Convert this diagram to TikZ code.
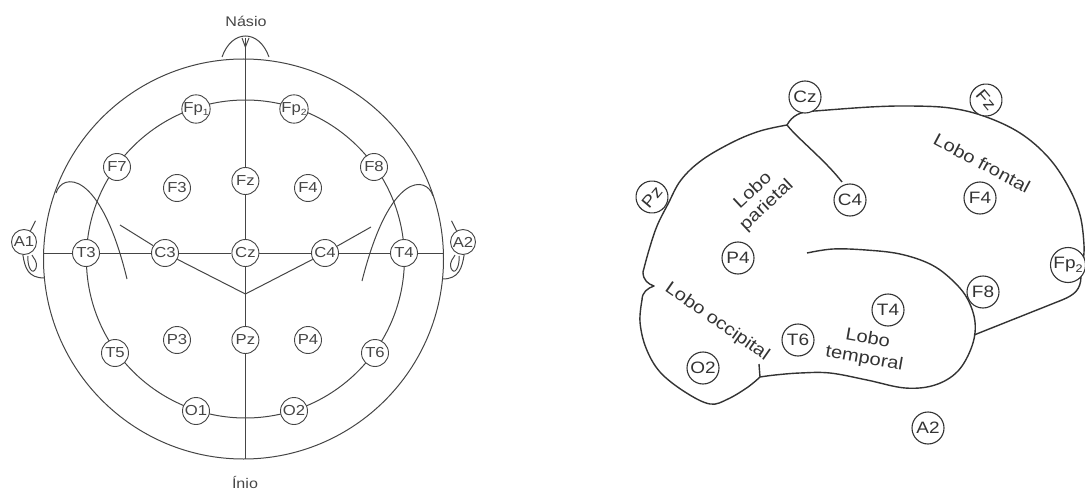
\documentclass[tikz,border=0pt]{standalone}
\usepackage{fontspec}
\setmainfont{Liberation Sans}[FakeStretch=1.15]
\usetikzlibrary{positioning}
\tikzset{>=stealth}
\definecolor{ink}{gray}{0.27}
\definecolor{darkink}{gray}{0.2}
\tikzstyle{elec}=[circle,draw=ink,fill=white,text=ink,inner sep=0pt,minimum size=27pt,line width=0.9pt,font=\fontsize{14.5}{14.5}\selectfont]
\tikzstyle{belec}=[elec,draw=darkink,text=darkink,minimum size=32pt,line width=1.1pt,font=\fontsize{16.5}{16.5}\selectfont]
\tikzstyle{lobe}=[text=darkink,align=center,font=\fontsize{17.5}{20}\selectfont]
\tikzstyle{head}=[draw=ink,line width=1pt]
\tikzstyle{brain}=[draw=darkink,line width=1.4pt,line join=round]
\newcommand{\fp}[2]{Fp\raisebox{-0.35ex}{\fontsize{#1}{#1}\selectfont #2}}

\begin{document}
\begin{tikzpicture}[x=1pt,y=-1pt]
\useasboundingbox (0,0) rectangle (1085,495);

% --- head seen from above ---
\draw[head] (243.5,259) circle[radius=200];
\draw[head] (245.4,259) circle[radius=159];
\draw[head] (222,57) .. controls (232,29) and (259,29) .. (269,57);
\draw[head] (242,38) -- (245.4,47) -- (249,38);
\draw[head] (56,193) .. controls (62,173) and (100,168) .. (127,279);
\draw[head] (433,196) .. controls (427,176) and (390,170) .. (362,281);

\node[text=ink,font=\fontsize{14}{14}\selectfont] (nasio) at (246,21) {Násio};
\node[text=ink,font=\fontsize{14}{14}\selectfont] (inio) at (245,482) {Ínio};

\node[elec] (Fp1) at (196,109) {\fp{9}{1}};
\node[elec] (Fp2) at (294,109) {\fp{9}{2}};
\node[elec] (F7) at (117,167) {F7};
\node[elec] (F8) at (374,167) {F8};
\node[elec] (F3) at (177,188) {F3};
\node[elec] (Fz) at (245.4,181) {Fz};
\node[elec] (F4) at (308,188) {F4};
\node[elec] (T3) at (86,253) {T3};
\node[elec] (C3) at (165,253) {C3};
\node[elec] (Cz) at (245.4,253) {Cz};
\node[elec] (C4) at (325,253) {C4};
\node[elec] (T4) at (404,253) {T4};
\node[elec] (T5) at (115,353) {T5};
\node[elec] (P3) at (177,340) {P3};
\node[elec] (Pz) at (245.4,340) {Pz};
\node[elec] (P4) at (308,340) {P4};
\node[elec] (T6) at (375,353) {T6};
\node[elec] (O1) at (196,411) {O1};
\node[elec] (O2) at (294,411) {O2};
\node[elec,minimum size=25pt] (A1) at (24,242) {A1};
\node[elec,minimum size=25pt] (A2) at (463,242) {A2};

\coordinate (nasion) at (245.4,38);
\coordinate (inion) at (245.4,459);
\coordinate (lt) at (44,253);
\coordinate (rt) at (443,253);
\coordinate (yj) at (245.4,294);
\coordinate (sl) at (120,225);
\coordinate (sr) at (371,227);
\draw[head] (nasion) -- (Fz) -- (Cz) -- (Pz) -- (inion);
\draw[head] (lt) -- (T3) -- (C3) -- (Cz) -- (C4) -- (T4) -- (rt);
\draw[head] (C3) -- (yj) -- (C4);
\draw[head] (sl) -- (C3);
\draw[head] (sr) -- (C4);

% ears
\draw[head] (A1.60) -- ++(5,-10);
\draw[head] (A1.265) .. controls (25,268) and (28,278) .. (44.5,278);
\draw[head] (28,256) .. controls (27,268) and (33,276) .. (36,268)
  .. controls (38,261) and (33,258) .. (32,255);
\draw[head] (A2.120) -- ++(-5,-10);
\draw[head] (A2.275) .. controls (462,268) and (459,279) .. (442.5,279);
\draw[head] (459,256) .. controls (460,268) and (454,276) .. (451,268)
  .. controls (449,261) and (454,258) .. (455,255);

% --- brain seen from the side ---
\coordinate (J) at (787,125);
\draw[brain] plot[smooth,tension=0.6] coordinates {(J) (760,131) (733,142)
  (702,160) (681,180) (668,204) (657,226) (649,250) (643,272)}
  .. controls (643,280) and (648,284) .. (654,286)
  .. controls (648,288) and (642,292) .. (642,300);
\draw[brain] plot[smooth,tension=0.6] coordinates {(642,300) (640,322)
  (646,348) (660,372) (685,392) (710,404) (728,399) (748,387) (760,377)};
\draw[brain] (760,377) -- (759,364);
\draw[brain] plot[smooth,tension=0.6] coordinates {(760,377) (775,375)
  (800,373) (830,373) (867,380) (905,388) (935,385) (958,371) (972,346)
  (975,322) (967,298) (951,279) (930,264) (900,254) (866,250) (833,249)
  (807,253)};
\draw[brain] (J) .. controls (792,116) and (800,111) .. (815,111);
\draw[brain] plot[smooth,tension=0.6] coordinates {(815,111) (870,107)
  (910,106) (950,108) (985,116.5) (1020,133) (1048,157) (1068,186)
  (1080,215) (1084,245) (1083,262)};
\draw[brain] (974,335) -- (1062,300) .. controls (1074,295) and (1081,290) .. (1081,276);
\draw[brain] (J) .. controls (797,138) and (825,160) .. (842,182);

\node[belec] (bCz) at (805,97) {Cz};
\node[belec,rotate=-50] (bFz) at (986,100) {Fz};
\node[belec,rotate=50] (bPz) at (652,197) {Pz};
\node[belec] (bC4) at (850,200) {C4};
\node[belec] (bF4) at (980,198) {F4};
\node[belec] (bP4) at (738,258) {P4};
\node[belec,minimum size=35pt] (bFp2) at (1068,265) {\fp{11}{2}};
\node[belec] (bF8) at (983,292) {F8};
\node[belec] (bT4) at (888,310) {T4};
\node[belec] (bT6) at (798,340) {T6};
\node[belec] (bO2) at (703,368) {O2};
\node[belec] (bA2) at (928,428) {A2};

\node[lobe,rotate=-28] (frontal) at (982,163) {Lobo frontal};
\node[lobe,rotate=43] (parietal) at (760,198) {Lobo\\parietal};
\node[lobe,rotate=-35] (occipital) at (717,322) {Lobo occipital};
\node[lobe,rotate=-10] (temporal) at (866,349) {Lobo\\temporal};
\end{tikzpicture}
\end{document}
